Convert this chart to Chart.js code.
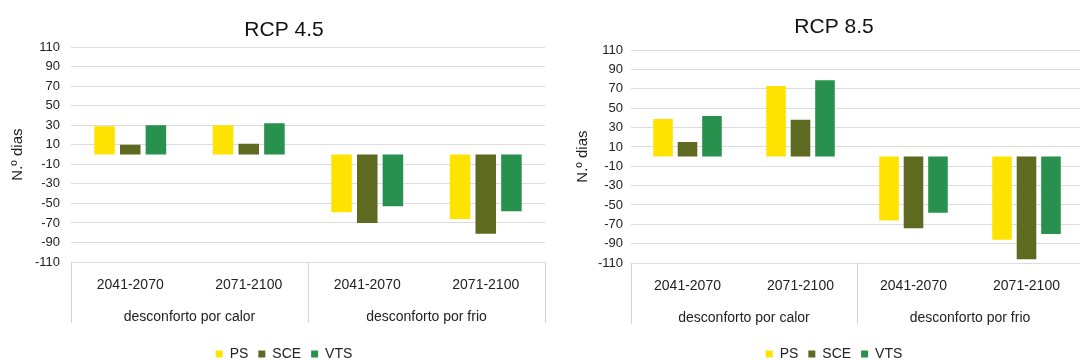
<!DOCTYPE html>
<html>
<head>
<meta charset="utf-8">
<script src="https://cdn.jsdelivr.net/npm/chart.js@4.4.1/dist/chart.umd.min.js"></script>
<style>
  html, body { margin: 0; padding: 0; background: #fff; overflow: hidden; width: 1080px; height: 361px; }
  .panel { position: absolute; top: 0; }
</style>
</head>
<body>
<div class="panel" style="left:0px"><canvas id="rcp45" width="568" height="361"></canvas></div>
<div class="panel" style="left:565px"><canvas id="rcp85" width="538" height="361"></canvas></div>
<script>
// Periods (inner category level) and discomfort type (outer level)
const periods = ['2041-2070', '2071-2100', '2041-2070', '2071-2100'];
const groups = ['desconforto por calor', 'desconforto por frio'];
const seriesNames = ['PS', 'SCE', 'VTS'];
const yMin = -110;
const yMax = 110;
const yStep = 20;

// Number of days, RCP 4.5
const rcp45PS  = [29, 30, -59, -66];
const rcp45SCE = [10, 11, -70, -81];
const rcp45VTS = [30, 32, -53, -58];

// Number of days, RCP 8.5
const rcp85PS  = [39, 73, -66, -86];
const rcp85SCE = [15, 38, -74, -106];
const rcp85VTS = [42, 79, -58, -80];

const seriesColors = ['#FFE300', '#5E6A20', '#27914D'];

Chart.defaults.font.family = "'Liberation Sans', Arial, sans-serif";
Chart.defaults.color = '#222';

// Vertical separators between the outer category groups, below the plot
const groupDividers = {
  id: 'groupDividers',
  afterDraw(chart, args, opts) {
    const { ctx, chartArea } = chart;
    const x = chart.scales.x;
    const perGroup = periods.length / groups.length;
    const xs = [chartArea.left];
    for (let g = 1; g < groups.length; g++) {
      xs.push((x.getPixelForValue(g * perGroup - 1) + x.getPixelForValue(g * perGroup)) / 2);
    }
    xs.push(chartArea.right);
    ctx.save();
    ctx.strokeStyle = opts.color;
    ctx.lineWidth = 1;
    xs.forEach(px => {
      const p = Math.round(px) + 0.5;
      ctx.beginPath();
      ctx.moveTo(p, chartArea.bottom);
      ctx.lineTo(p, chartArea.bottom + opts.length);
      ctx.stroke();
    });
    ctx.restore();
  }
};

function makeChart(id, title, ps, sce, vts, cfg) {
  const values = [ps, sce, vts];
  return new Chart(document.getElementById(id), {
    type: 'bar',
    data: {
      labels: periods,
      datasets: seriesNames.map((name, i) => ({
        label: name,
        data: values[i],
        backgroundColor: seriesColors[i],
        borderWidth: 0,
        categoryPercentage: 0.65,
        barPercentage: 0.8
      }))
    },
    options: {
      responsive: false,
      animation: false,
      layout: { padding: { left: 0, right: 0, top: 0, bottom: -10 } },
      plugins: {
        title: {
          display: true,
          text: title,
          color: '#111',
          font: { size: 21, weight: 'normal' },
          padding: { top: cfg.titleTop, bottom: cfg.titleBottom }
        },
        legend: {
          position: 'bottom',
          labels: {
            boxWidth: 7,
            boxHeight: 7,
            padding: 10,
            color: '#222',
            font: { size: 14 }
          }
        },
        tooltip: { enabled: false },
        groupDividers: { color: '#d4d4d4', length: 61 }
      },
      scales: {
        x: {
          type: 'category',
          position: 'bottom',
          weight: 1,
          grid: { display: false },
          border: { display: false },
          ticks: { font: { size: 14 }, padding: 7, autoSkip: false, maxRotation: 0, color: '#222' },
          afterFit: s => { s.height = 34; }
        },
        x2: {
          type: 'category',
          labels: groups,
          position: 'bottom',
          weight: 2,
          offset: true,
          grid: { display: false },
          border: { display: false },
          ticks: { font: { size: 14 }, padding: 5, autoSkip: false, maxRotation: 0, color: '#222' },
          afterFit: s => { s.height = cfg.groupAxisHeight; }
        },
        y: {
          type: 'linear',
          position: 'left',
          min: yMin,
          max: yMax,
          ticks: { stepSize: yStep, font: { size: 13 }, padding: cfg.tickPad, color: '#222' },
          grid: { color: '#dcdcdc', lineWidth: 1, drawTicks: false },
          border: { display: false },
          title: {
            display: true,
            text: 'N.º dias',
            color: '#222',
            font: { size: 15 },
            padding: { top: 9, bottom: 0 }
          },
          afterFit: s => { s.width = cfg.yWidth; }
        },
        pad: {
          type: 'linear',
          position: 'right',
          display: true,
          ticks: { display: false },
          grid: { display: false },
          border: { display: false },
          afterFit: s => { s.width = cfg.rightSpace; }
        }
      }
    },
    plugins: [groupDividers]
  });
}

makeChart('rcp45', 'RCP 4.5', rcp45PS, rcp45SCE, rcp45VTS,
  { titleTop: 18, titleBottom: 4, yWidth: 71, tickPad: 11, rightSpace: 23, groupAxisHeight: 41 });
makeChart('rcp85', 'RCP 8.5', rcp85PS, rcp85SCE, rcp85VTS,
  { titleTop: 15, titleBottom: 10, yWidth: 66, tickPad: 8, rightSpace: 20, groupAxisHeight: 40 });
</script>
</body>
</html>
